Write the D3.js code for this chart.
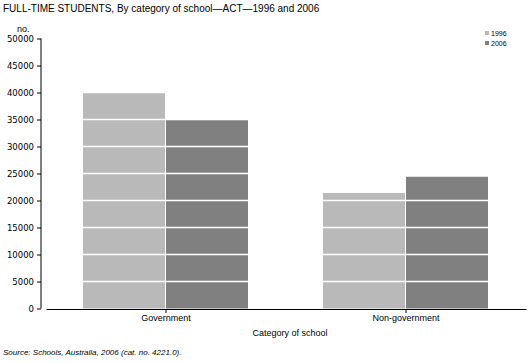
<html>
<head>
<script src="https://d3js.org/d3.v7.min.js"></script>
<style>
  body { margin: 0; background: #fff; }
  svg { font-family: 'Liberation Sans', Arial, sans-serif; }
</style>
</head>
<body>
<svg id="svg" width="529" height="363"></svg>
<script>
var categories = ["Government", "Non-government"];
var years = ["1996", "2006"];
var values1996 = [39900, 21400];
var values2006 = [34900, 24400];
var yTicks = [0, 5000, 10000, 15000, 20000, 25000, 30000, 35000, 40000, 45000, 50000];
var colors = {"1996": "#b9b9b9", "2006": "#808080"};

var svg = d3.select("svg");

var rows = categories.map(function(c, i) {
    return {cat: c, vals: [{year: "1996", v: values1996[i]}, {year: "2006", v: values2006[i]}]};
});

var y = d3.scaleLinear().domain([0, 50000]).range([308.5, 38.5]);
var x0 = d3.scaleBand().domain(categories).range([46, 526]);
var x1 = d3.scaleBand().domain(years).range([0, x0.bandwidth()]).paddingOuter(0.446);

// title
svg.append("text").attr("x", 3).attr("y", 12)
    .style("font-size", "10px")
    .text("FULL-TIME STUDENTS, By category of school\u2014ACT\u20141996 and 2006");

svg.append("text").attr("x", 17).attr("y", 32)
    .style("font-size", "9px")
    .text("no.");

// bars
var g = svg.selectAll(".grp").data(rows).enter().append("g")
    .attr("transform", function(d) { return "translate(" + x0(d.cat) + ",0)"; });
g.selectAll("rect").data(function(d) { return d.vals; }).enter().append("rect")
    .attr("x", function(d) { return x1(d.year); })
    .attr("width", x1.bandwidth() - 1)
    .attr("y", function(d) { return y(d.v); })
    .attr("height", function(d) { return y(0) - y(d.v); })
    .attr("fill", function(d) { return colors[d.year]; });

// white gridlines over bars
svg.selectAll(".grid").data(yTicks.filter(function(t) { return t > 0; })).enter().append("line")
    .attr("x1", 46).attr("x2", 526)
    .attr("y1", function(d) { return y(d); }).attr("y2", function(d) { return y(d); })
    .attr("stroke", "#fff").attr("stroke-width", 1.5);

// y axis
var yAxis = svg.append("g").attr("transform", "translate(41,0)")
    .call(d3.axisLeft(y).tickValues(yTicks).tickSize(4).tickPadding(3).tickFormat(d3.format("d")));
yAxis.selectAll("text").style("font-size", "8.5px").style("font-family", "'DejaVu Sans', sans-serif").attr("fill", "#000");
yAxis.selectAll("line, path").attr("stroke", "#000");
yAxis.select(".domain").attr("d", "M0," + y(50000) + "V" + y(0));

// x axis
var xAxis = svg.append("g").attr("transform", "translate(0," + (y(0) + 0.5) + ")")
    .call(d3.axisBottom(x0).tickSize(4).tickPadding(2).tickSizeOuter(0));
xAxis.selectAll("text").style("font-size", "9px").attr("fill", "#000");
xAxis.selectAll("line, path").attr("stroke", "#000");

svg.append("text").attr("x", 290).attr("y", 336).attr("text-anchor", "middle")
    .style("font-size", "9px")
    .text("Category of school");

// legend
var leg = svg.selectAll(".leg").data(years).enter().append("g")
    .attr("transform", function(d, i) { return "translate(485," + (31 + i * 10) + ")"; });
leg.append("rect").attr("width", 4).attr("height", 4).attr("fill", function(d) { return colors[d]; });
leg.append("text").attr("x", 6).attr("y", 4.5).style("font-size", "7px").text(function(d) { return d; });

svg.append("text").attr("x", 3).attr("y", 355)
    .style("font-size", "8px").style("font-style", "italic")
    .text("Source: Schools, Australia, 2006 (cat. no. 4221.0).");
</script>
</body>
</html>
